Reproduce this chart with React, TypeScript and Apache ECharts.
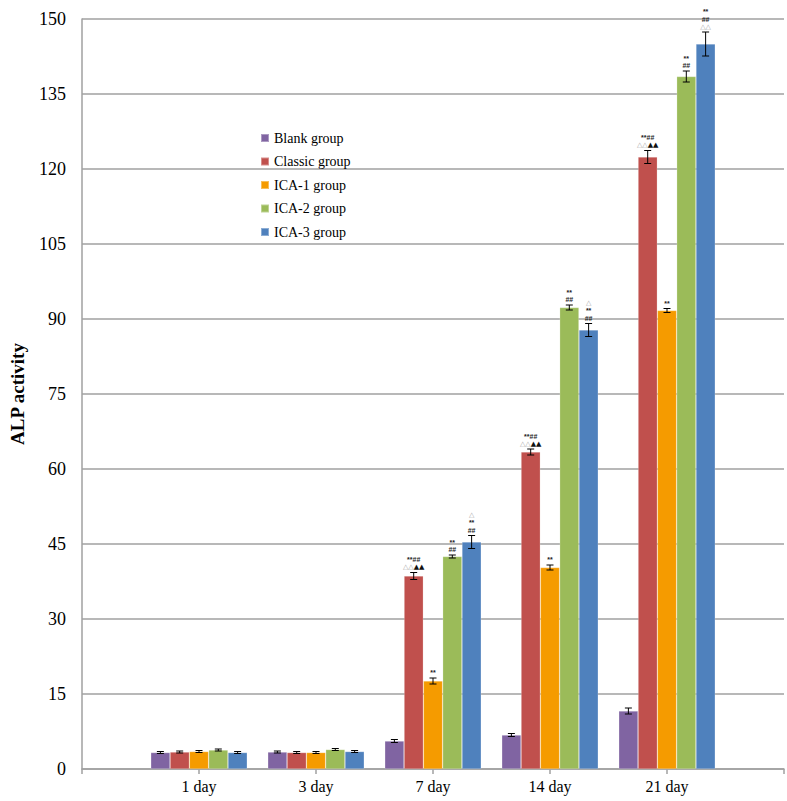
import React, { useEffect, useRef } from "react";
import * as echarts from "echarts";

const categories = ["", "1 day", "3 day", "7 day", "14 day", "21 day", ""];
const groupNames = ["Blank group", "Classic group", "ICA-1 group", "ICA-2 group", "ICA-3 group"];
const groupColors = ["#8064A2", "#C0504D", "#F59B00", "#9BBB59", "#4F81BD"];

// values per category (1,3,7,14,21 day)
const blankValues = [3.3, 3.4, 5.6, 6.8, 11.6];
const classicValues = [3.4, 3.3, 38.6, 63.4, 122.4];
const ica1Values = [3.5, 3.3, 17.6, 40.3, 91.7];
const ica2Values = [3.8, 3.9, 42.5, 92.3, 138.5];
const ica3Values = [3.3, 3.5, 45.4, 87.8, 145.0];

const blankErrors = [0.2, 0.2, 0.3, 0.3, 0.6];
const classicErrors = [0.2, 0.2, 0.7, 0.6, 1.3];
const ica1Errors = [0.2, 0.2, 0.6, 0.5, 0.4];
const ica2Errors = [0.2, 0.2, 0.3, 0.5, 1.1];
const ica3Errors = [0.2, 0.2, 1.3, 1.3, 2.4];

// annotation lines per bar ("|" separates lines)
const blankNotes = ["", "", "", "", ""];
const classicNotes = ["", "", "**##|△△▲▲", "**##|△△▲▲", "**##|△△▲▲"];
const ica1Notes = ["", "", "**", "**", "**"];
const ica2Notes = ["", "", "**|##", "**|##", "**|##"];
const ica3Notes = ["", "", "△|**|##", "△|**|##", "**|##|△△"];

const allValues = [blankValues, classicValues, ica1Values, ica2Values, ica3Values];
const allErrors = [blankErrors, classicErrors, ica1Errors, ica2Errors, ica3Errors];
const allNotes = [blankNotes, classicNotes, ica1Notes, ica2Notes, ica3Notes];

const GAP = 0.175;
const SERIF = "'Liberation Serif', 'Times New Roman', serif";

function toRich(note: string): string {
  if (!note) return "";
  return note
    .split("|")
    .map((line) => {
      let out = "";
      let cur = "";
      let curType = "";
      const flush = () => {
        if (cur) out += `{${curType}|${cur}}`;
        cur = "";
      };
      for (const ch of line) {
        const t = ch === "△" ? "w" : ch === "▲" ? "b" : "a";
        if (t !== curType) {
          flush();
          curType = t;
        }
        cur += ch;
      }
      flush();
      return out;
    })
    .join("\n");
}

export default function App() {
  const ref = useRef<HTMLDivElement>(null);
  useEffect(() => {
    if (!ref.current) return;
    const chart = echarts.init(ref.current, undefined, { renderer: "svg" });

    const barSeries = groupNames.map((name, si) => ({
      name,
      type: "bar",
      barGap: "0%",
      barCategoryGap: GAP * 100 + "%",
      itemStyle: { color: groupColors[si], borderColor: "rgba(255,255,255,0.35)", borderWidth: 0.6 },
      data: [null, ...allValues[si], null],
    }));

    const errData: any[] = [];
    allValues.forEach((vals, si) => {
      vals.forEach((v, ci) => {
        errData.push([ci + 1, v, allErrors[si][ci], si, ci]);
      });
    });

    const errSeries = {
      type: "custom",
      name: "err",
      data: errData,
      encode: { x: 0, y: 1 },
      z: 5,
      renderItem: (params: any, api: any) => {
        const cat = api.value(0);
        const v = api.value(1);
        const e = api.value(2);
        const si = api.value(3);
        const ci = api.value(4);
        const band = api.size([1, 0])[0];
        const groupW = band * (1 - GAP);
        const bw = groupW / 5;
        const c = api.coord([cat, v]);
        const x = c[0] - groupW / 2 + bw * (si + 0.5);
        const yTop = api.coord([cat, v + e])[1];
        const yBot = api.coord([cat, v - e])[1];
        const cap = 3.5;
        const ls = { stroke: "#000", lineWidth: 1 };
        const children: any[] = [
          { type: "line", shape: { x1: x, y1: yTop, x2: x, y2: yBot }, style: ls },
          { type: "line", shape: { x1: x - cap, y1: yTop, x2: x + cap, y2: yTop }, style: ls },
          { type: "line", shape: { x1: x - cap, y1: yBot, x2: x + cap, y2: yBot }, style: ls },
        ];
        const note = allNotes[si][ci];
        if (note) {
          children.push({
            type: "text",
            x: x,
            y: yTop - 1.5,
            style: {
              text: toRich(note),
              align: "center",
              verticalAlign: "bottom",
              fontSize: 7,
              lineHeight: 7.5,
              fontFamily: "Liberation Sans",
              rich: {
                a: { fontSize: 7, lineHeight: 7.5, fill: "#222", fontWeight: "bold", fontFamily: "Liberation Sans" },
                w: { fontSize: 7, lineHeight: 7.5, fill: "#a8a8a8", fontFamily: "DejaVu Sans" },
                b: { fontSize: 7, lineHeight: 7.5, fill: "#111", fontFamily: "DejaVu Sans" },
              },
            },
          });
        }
        return { type: "group", children };
      },
    };

    chart.setOption({
      animation: false,
      backgroundColor: "#fff",
      textStyle: { fontFamily: SERIF },
      grid: { left: 79, right: 2, top: 19, bottom: 32, containLabel: false },
      legend: {
        data: groupNames,
        orient: "vertical",
        left: 255,
        top: 126,
        icon: "rect",
        itemWidth: 8,
        itemHeight: 8,
        itemGap: 9.5,
        textStyle: { fontFamily: SERIF, fontSize: 14, color: "#000", lineHeight: 14 },
      },
      xAxis: {
        type: "category",
        data: categories,
        boundaryGap: false,
        axisLine: { lineStyle: { color: "#a0a0a0", width: 1.5 } },
        axisTick: { show: true, length: 5, lineStyle: { color: "#a0a0a0", width: 1.5 } },
        axisLabel: { fontFamily: SERIF, fontSize: 16, color: "#000", margin: 9 },
        splitLine: { show: false },
      },
      yAxis: {
        type: "value",
        min: 0,
        max: 150,
        interval: 15,
        name: "ALP activity",
        nameLocation: "middle",
        nameGap: 55,
        nameTextStyle: { fontFamily: SERIF, fontSize: 19, fontWeight: "bold", color: "#000" },
        axisLine: { show: true, lineStyle: { color: "#a0a0a0", width: 1.5 } },
        axisTick: { show: false },
        axisLabel: { fontFamily: SERIF, fontSize: 18, color: "#000", margin: 16 },
        splitLine: { show: true, lineStyle: { color: "#a0a0a0", width: 1.5 } },
      },
      series: [...barSeries, errSeries],
    });
    return () => chart.dispose();
  }, []);
  return (
    <div
      ref={ref}
      style={{ position: "fixed", left: 0, top: 0, width: 787, height: 801, background: "#fff" }}
    />
  );
}
